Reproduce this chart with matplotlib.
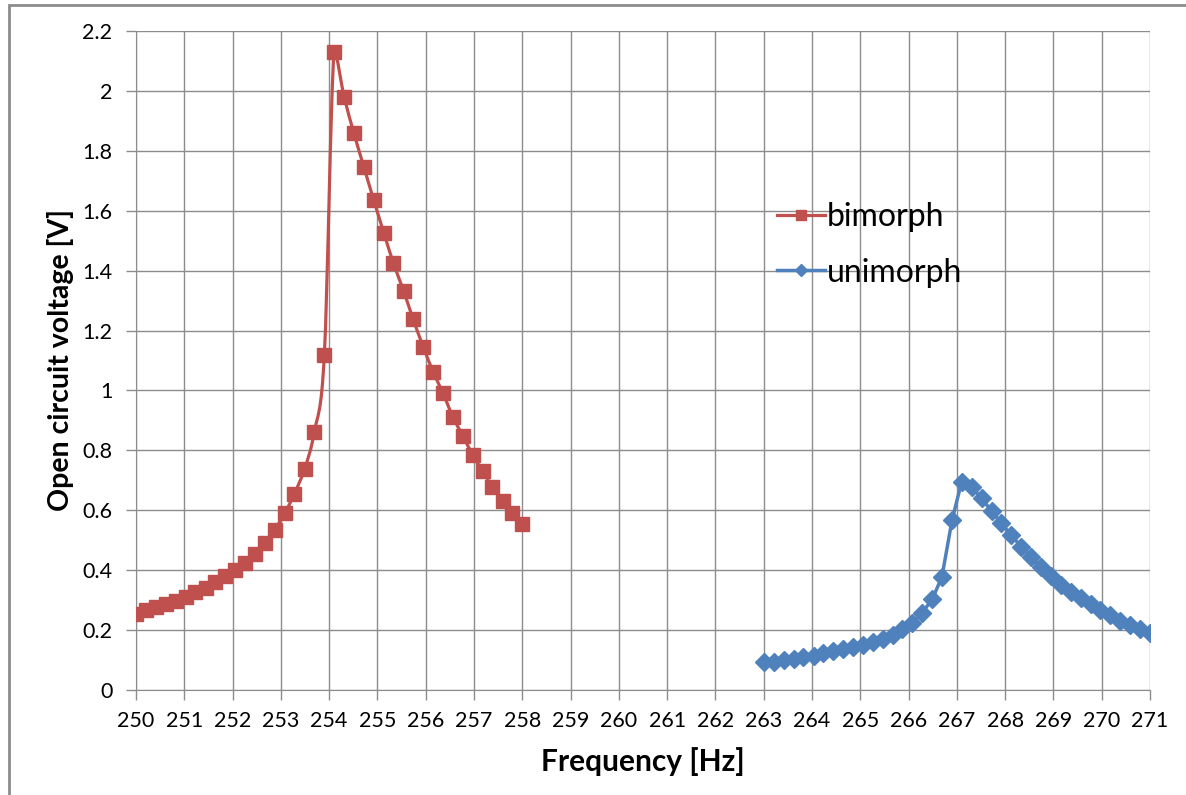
import matplotlib; matplotlib.use("Agg")
import matplotlib.pyplot as plt
from matplotlib.path import Path
from matplotlib.patches import PathPatch, Rectangle
from matplotlib.lines import Line2D

# values
bimorph_f = [250.00, 250.21, 250.41, 250.62, 250.82, 251.03, 251.23, 251.44, 251.64, 251.85,
             252.05, 252.26, 252.46, 252.67, 252.87, 253.08, 253.28, 253.49, 253.69, 253.90,
             254.10, 254.31, 254.51, 254.72, 254.92, 255.13, 255.33, 255.54, 255.74, 255.95,
             256.15, 256.36, 256.56, 256.77, 256.97, 257.18, 257.38, 257.59, 257.79, 258.00]
bimorph_v = [0.255, 0.266, 0.276, 0.286, 0.298, 0.312, 0.326, 0.342, 0.360, 0.379,
             0.400, 0.424, 0.455, 0.490, 0.535, 0.590, 0.655, 0.738, 0.860, 1.120,
             2.130, 1.980, 1.860, 1.745, 1.637, 1.527, 1.425, 1.333, 1.237, 1.145,
             1.063, 0.990, 0.912, 0.848, 0.785, 0.730, 0.678, 0.632, 0.592, 0.555]

unimorph_f = [263.00, 263.21, 263.41, 263.62, 263.82, 264.03, 264.23, 264.44, 264.64, 264.85,
              265.05, 265.26, 265.46, 265.67, 265.87, 266.08, 266.28, 266.49, 266.69, 266.90,
              267.10, 267.31, 267.51, 267.72, 267.92, 268.13, 268.33, 268.54, 268.74, 268.95,
              269.15, 269.36, 269.56, 269.77, 269.97, 270.18, 270.38, 270.59, 270.79, 271.00]
unimorph_v = [0.093, 0.095, 0.099, 0.103, 0.110, 0.115, 0.122, 0.129, 0.136, 0.143,
              0.151, 0.160, 0.171, 0.185, 0.204, 0.225, 0.258, 0.303, 0.378, 0.568,
              0.696, 0.677, 0.640, 0.597, 0.557, 0.516, 0.479, 0.443, 0.410, 0.380,
              0.352, 0.327, 0.306, 0.286, 0.267, 0.249, 0.231, 0.217, 0.203, 0.190]

x_ticks = list(range(250, 272))
y_ticks = [0, 0.2, 0.4, 0.6, 0.8, 1, 1.2, 1.4, 1.6, 1.8, 2, 2.2]
y_labels = ["0", "0.2", "0.4", "0.6", "0.8", "1", "1.2", "1.4", "1.6", "1.8", "2", "2.2"]

RED, BLUE, GRID = "#C0504D", "#4F81BD", "#8C8C8C"
plt.rcParams["font.family"] = ["Lato", "DejaVu Sans"]


def smooth_path(xs, ys):
    # Excel-like smoothed line: Catmull-Rom bezier, control points clamped to each segment
    verts, codes = [(xs[0], ys[0])], [Path.MOVETO]
    n = len(xs)
    for i in range(n - 1):
        x0, y0 = (xs[i - 1], ys[i - 1]) if i > 0 else (xs[i], ys[i])
        x1, y1, x2, y2 = xs[i], ys[i], xs[i + 1], ys[i + 1]
        x3, y3 = (xs[i + 2], ys[i + 2]) if i + 2 < n else (x2, y2)
        lo, hi = min(y1, y2), max(y1, y2)
        c1 = (x1 + (x2 - x0) / 6, min(max(y1 + (y2 - y0) / 6, lo), hi))
        c2 = (x2 - (x3 - x1) / 6, min(max(y2 - (y3 - y1) / 6, lo), hi))
        verts += [c1, c2, (x2, y2)]
        codes += [Path.CURVE4] * 3
    return Path(verts, codes)


fig = plt.figure(figsize=(11.86, 7.95), dpi=100)
ax = fig.add_axes([0.1147, 0.1321, 0.8550, 0.8289])

ax.add_patch(PathPatch(smooth_path(bimorph_f, bimorph_v), fill=False, edgecolor=RED, lw=2.3, zorder=3))
ax.plot(bimorph_f, bimorph_v, ls="none", marker="s", ms=10.5, color=RED, zorder=4)
ax.plot(unimorph_f, unimorph_v, color=BLUE, lw=2.5, marker="D", ms=9, zorder=4)

ax.set_xlim(250, 271)
ax.set_ylim(0, 2.2)
ax.set_xticks(x_ticks)
ax.set_yticks(y_ticks)
ax.set_yticklabels(y_labels)
ax.tick_params(labelsize=15.5, color=GRID, length=7, width=1)
ax.tick_params(axis="x", pad=8)
ax.tick_params(axis="y", pad=10)
ax.grid(True, color=GRID, lw=1)
ax.set_axisbelow(True)
for side in ("top", "right"):
    ax.spines[side].set_visible(False)
for side in ("left", "bottom"):
    ax.spines[side].set_color(GRID)

ax.set_xlabel("Frequency [Hz]", fontsize=21.5, fontweight="bold", labelpad=12)
ax.set_ylabel("Open circuit voltage [V]", fontsize=20.5, fontweight="bold", labelpad=6)

handles = [Line2D([], [], color=RED, lw=2.3, marker="s", ms=7),
           Line2D([], [], color=BLUE, lw=2.5, marker="D", ms=6)]
fig.legend(handles, ["bimorph", "unimorph"], loc="upper left", bbox_to_anchor=(0.631, 0.782),
           frameon=False, fontsize=23, handlelength=1.5, handletextpad=0.05, labelspacing=0.8)

# chart area frame (left and top edges visible)
fig.patches.append(Rectangle((0.0076, -0.02), 1.1, 1.0137, transform=fig.transFigure,
                             fill=False, edgecolor="#8C8C8C", lw=2))

plt.savefig("out.png", dpi=100)
plt.close()
